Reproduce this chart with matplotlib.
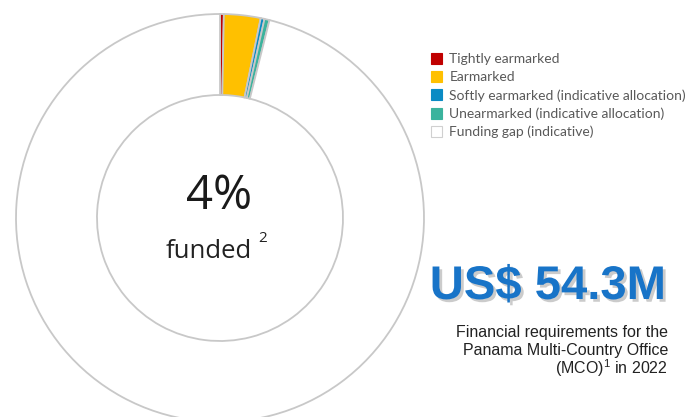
import matplotlib.pyplot as plt
import matplotlib.patheffects as pe
from matplotlib.patches import Patch

plt.rcParams['mathtext.fontset'] = 'custom'
plt.rcParams['mathtext.rm'] = 'Liberation Sans'

# Dati: composizione del finanziamento (% del fabbisogno)
categorie = ['Tightly earmarked', 'Earmarked', 'Softly earmarked (indicative allocation)',
             'Unearmarked (indicative allocation)', 'Funding gap (indicative)']
quote = [0.3, 2.9, 0.3, 0.4, 96.1]
colori = ['#c00000', '#ffc000', '#0a8bc4', '#3bb39d', '#ffffff']

percentuale_finanziata = '4%'
totale = 'US$ 54.3M'

W, H = 699, 417
fig = plt.figure(figsize=(W / 100, H / 100), dpi=100)
ax = fig.add_axes([0, 0, 1, 1])

# Ciambella (coordinate in pixel, y dal basso)
ax.pie(quote, colors=colori, center=(220, H - 218), radius=204,
       startangle=90, counterclock=False,
       wedgeprops=dict(width=81, edgecolor='#c8c8c8', linewidth=1.3))
ax.set_xlim(0, W)
ax.set_ylim(0, H)
ax.set_aspect('equal')
ax.axis('off')

# Testo centrale
ax.text(219, H - 196, percentuale_finanziata, ha='center', va='center',
        fontsize=34, family='Open Sans', fontweight='medium', color='#1a1a1a')
ax.text(209, H - 251, 'funded', ha='center', va='center',
        fontsize=18.5, family='Open Sans', color='#222222')
ax.text(258, H - 238, '2', ha='left', va='center',
        fontsize=11, family='Open Sans', color='#222222')

# Legenda
handles = [Patch(facecolor=c, edgecolor='#d0d0d0' if c == '#ffffff' else c, linewidth=0.8)
           for c in colori]
leg = ax.legend(handles, categorie, loc='upper left', bbox_to_anchor=(431 / W, 1 - 53 / H),
                frameon=False, handlelength=0.82, handleheight=0.82, handletextpad=0.5,
                labelspacing=0.42, borderpad=0, borderaxespad=0,
                prop=dict(family='Lato', size=10))
for t in leg.get_texts():
    t.set_color('#595959')

# Totale richiesto
ax.text(666, H - 287, totale, ha='right', va='center', fontsize=34, fontweight='bold',
        family='Liberation Sans', color='#1874c8',
        path_effects=[pe.SimplePatchShadow(offset=(2, -2), shadow_rgbFace='#999999', alpha=0.5),
                      pe.Normal()])

righe = ['Financial requirements for the', 'Panama Multi-Country Office',
         '(MCO)$^{1}$ in 2022']
for i, r in enumerate(righe):
    ax.text(668, H - 332 - i * 18, r, ha='right', va='center', fontsize=11.5,
            family='Liberation Sans', color='#222222')

fig.savefig('out.png', dpi=100)
